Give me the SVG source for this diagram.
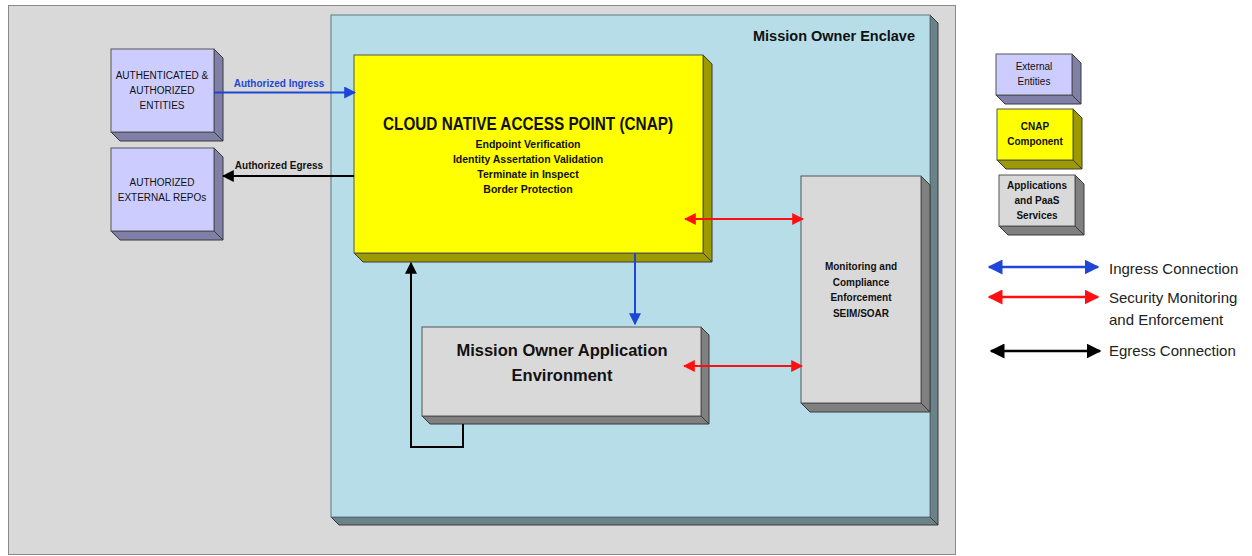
<svg xmlns="http://www.w3.org/2000/svg" width="1252" height="556" viewBox="0 0 1252 556">
<defs>
<style>
.t{font-family:"Liberation Sans",Arial,sans-serif;text-anchor:middle;fill:#111}
.b{font-weight:bold}
.edge{stroke:#3a3a3a;stroke-width:1}
.lg{font-family:"Liberation Sans",Arial,sans-serif;font-size:15px;fill:#222}
</style>
<marker id="ab" viewBox="0 0 10 10" refX="9" refY="5" markerWidth="6" markerHeight="6" orient="auto-start-reverse"><path d="M0,0 L10,5 L0,10 z" fill="#1f47d6"/></marker>
<marker id="ar" viewBox="0 0 10 10" refX="9" refY="5" markerWidth="6" markerHeight="6" orient="auto-start-reverse"><path d="M0,0 L10,5 L0,10 z" fill="#ff1010"/></marker>
<marker id="ak" viewBox="0 0 10 10" refX="9" refY="5" markerWidth="6" markerHeight="6" orient="auto-start-reverse"><path d="M0,0 L10,5 L0,10 z" fill="#000"/></marker>
</defs>
<rect width="1252" height="556" fill="#fff"/>
<g id="outer">
<rect x="8.5" y="5.5" width="947" height="549" fill="#d9d9d9" stroke="#8a8a8a"/>
</g>
<g id="enclave">
<polygon points="930,15 938,23 938,525 930,517" fill="#6b8289" class="edge"/>
<polygon points="331,517 930,517 938,525 339,525" fill="#6b8289" class="edge"/>
<rect x="331" y="15" width="599" height="502" fill="#b7dde8" stroke="#5a7a84"/>
<text x="915" y="41" class="t b" font-size="14.5" style="text-anchor:end">Mission Owner Enclave</text>
</g>
<g id="ext-auth">
<polygon points="214,49 223,58 223,141 214,132" fill="#7f7fa8" class="edge"/>
<polygon points="111,132 214,132 223,141 120,141" fill="#7f7fa8" class="edge"/>
<rect x="111" y="49" width="103" height="83" fill="#ccccff" stroke="#555"/>
<text class="t" font-size="10"><tspan x="162" y="79">AUTHENTICATED &amp;</tspan><tspan x="162" y="94">AUTHORIZED</tspan><tspan x="162" y="109">ENTITIES</tspan></text>
</g>
<g id="ext-repo">
<polygon points="214,148 223,157 223,240 214,231" fill="#7f7fa8" class="edge"/>
<polygon points="111,231 214,231 223,240 120,240" fill="#7f7fa8" class="edge"/>
<rect x="111" y="148" width="103" height="83" fill="#ccccff" stroke="#555"/>
<text class="t" font-size="10"><tspan x="162" y="186">AUTHORIZED</tspan><tspan x="162" y="201">EXTERNAL REPOs</tspan></text>
</g>
<g id="cnap">
<polygon points="703,55 712,64 712,262 703,253" fill="#9c9a00" class="edge"/>
<polygon points="354,253 703,253 712,262 363,262" fill="#9c9a00" class="edge"/>
<rect x="354" y="55" width="349" height="198" fill="#ffff00" stroke="#555"/>
<text x="528" y="130" class="t b" font-size="18" textLength="290" lengthAdjust="spacingAndGlyphs">CLOUD NATIVE ACCESS POINT (CNAP)</text>
<text class="t b" font-size="10.5"><tspan x="528" y="148">Endpoint Verification</tspan><tspan x="528" y="163">Identity Assertation Validation</tspan><tspan x="528" y="178">Terminate in Inspect</tspan><tspan x="528" y="193">Border Protection</tspan></text>
</g>
<g id="app-env">
<polygon points="701,327 709,335 709,424 701,416" fill="#808080" class="edge"/>
<polygon points="422,416 701,416 709,424 430,424" fill="#808080" class="edge"/>
<rect x="422" y="327" width="279" height="89" fill="#d9d9d9" stroke="#555"/>
<text class="t b" font-size="16.5"><tspan x="562" y="356">Mission Owner Application</tspan><tspan x="562" y="381">Environment</tspan></text>
</g>
<g id="monitoring">
<polygon points="921,176 930,185 930,412 921,403" fill="#808080" class="edge"/>
<polygon points="801,403 921,403 930,412 810,412" fill="#808080" class="edge"/>
<rect x="801" y="176" width="120" height="227" fill="#d9d9d9" stroke="#555"/>
<text class="t b" font-size="10"><tspan x="861" y="270">Monitoring and</tspan><tspan x="861" y="286">Compliance</tspan><tspan x="861" y="301">Enforcement</tspan><tspan x="861" y="317">SEIM/SOAR</tspan></text>
</g>
<g id="connectors" fill="none" stroke-width="2">
<path d="M214,92.5 H355" stroke="#1f47d6" marker-end="url(#ab)"/>
<text x="279" y="87" class="t b" font-size="10" stroke="none" style="fill:#1f47d6">Authorized Ingress</text>
<path d="M354,176 H223" stroke="#000" marker-end="url(#ak)"/>
<text x="279" y="169" class="t b" font-size="10" stroke="none">Authorized Egress</text>
<path d="M685,219 H803" stroke="#ff1010" marker-start="url(#ar)" marker-end="url(#ar)"/>
<path d="M684,366 H802" stroke="#ff1010" marker-start="url(#ar)" marker-end="url(#ar)"/>
<path d="M635,253 V324" stroke="#1f47d6" marker-end="url(#ab)"/>
<path d="M463,424 V447 H411 V263" stroke="#000" marker-end="url(#ak)"/>
</g>
<g id="legend">
<g id="lg-ext">
<polygon points="1072,54 1081,63 1081,104 1072,95" fill="#7f7fa8" class="edge"/>
<polygon points="996,95 1072,95 1081,104 1005,104" fill="#7f7fa8" class="edge"/>
<rect x="996" y="54" width="76" height="41" fill="#ccccff" stroke="#555"/>
<text class="t" font-size="10"><tspan x="1034" y="70">External</tspan><tspan x="1034" y="85">Entities</tspan></text>
</g>
<g id="lg-cnap">
<polygon points="1073,109 1082,118 1082,169 1073,160" fill="#9c9a00" class="edge"/>
<polygon points="997,160 1073,160 1082,169 1006,169" fill="#9c9a00" class="edge"/>
<rect x="997" y="109" width="76" height="51" fill="#ffff00" stroke="#555"/>
<text class="t b" font-size="10"><tspan x="1035" y="130">CNAP</tspan><tspan x="1035" y="145">Component</tspan></text>
</g>
<g id="lg-app">
<polygon points="1075,175 1084,184 1084,235 1075,226" fill="#808080" class="edge"/>
<polygon points="999,226 1075,226 1084,235 1008,235" fill="#808080" class="edge"/>
<rect x="999" y="175" width="76" height="51" fill="#d9d9d9" stroke="#555"/>
<text class="t b" font-size="10"><tspan x="1037" y="189">Applications</tspan><tspan x="1037" y="204">and PaaS</tspan><tspan x="1037" y="219">Services</tspan></text>
</g>
<g fill="none" stroke-width="2.5">
<path d="M989,267 H1098" stroke="#1f47d6" marker-start="url(#ab)" marker-end="url(#ab)"/>
<path d="M989,297 H1098" stroke="#ff1010" marker-start="url(#ar)" marker-end="url(#ar)"/>
<path d="M991,351 H1100" stroke="#000" marker-start="url(#ak)" marker-end="url(#ak)"/>
</g>
<text x="1109" y="274" class="lg">Ingress Connection</text>
<text class="lg"><tspan x="1109" y="303">Security Monitoring</tspan><tspan x="1109" y="325">and Enforcement</tspan></text>
<text x="1109" y="356" class="lg">Egress Connection</text>
</g>
</svg>
